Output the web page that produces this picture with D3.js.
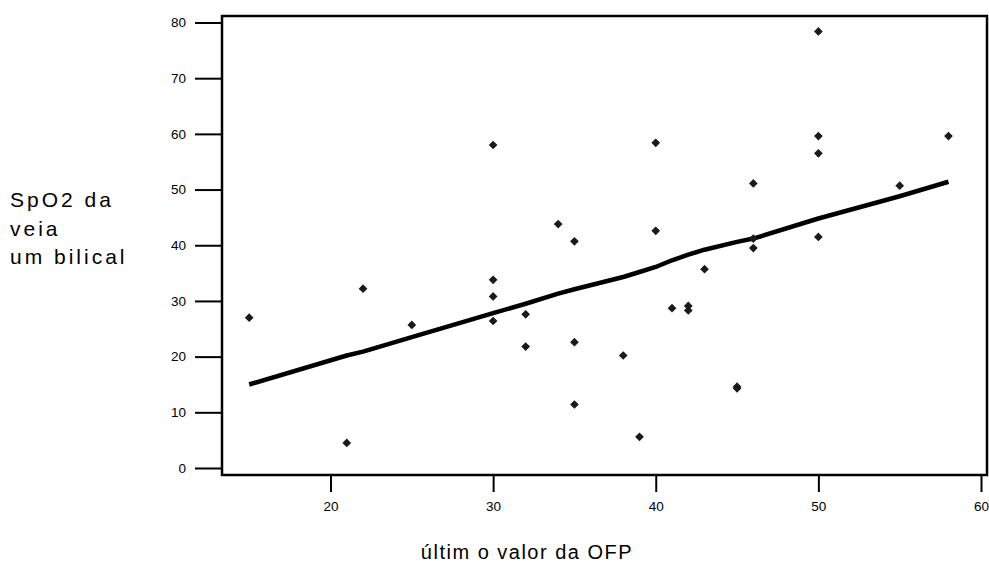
<!DOCTYPE html>
<html>
<head>
<meta charset="utf-8">
<script src="https://cdn.jsdelivr.net/npm/d3@7"></script>
<style>
  html, body { margin: 0; padding: 0; background: #fff; }
  svg { display: block; font-family: "Liberation Sans", Arial, sans-serif; }
</style>
</head>
<body>
<svg id="chart" width="989" height="562"></svg>
<script>
// ---- data ----
const ofpValues = [15, 21, 22, 25, 30, 30, 30, 30, 32, 32, 34, 35, 35, 35, 38, 39, 40, 40, 41, 42, 42, 43, 45, 45, 46, 46, 46, 50, 50, 50, 50, 55, 58];
const spo2Values = [27.0, 4.5, 32.2, 25.7, 58.0, 33.8, 30.8, 26.4, 27.6, 21.8, 43.8, 40.7, 22.6, 11.4, 20.2, 5.6, 58.4, 42.6, 28.7, 29.1, 28.3, 35.7, 14.3, 14.6, 51.1, 41.2, 39.5, 78.4, 59.6, 56.5, 41.5, 50.7, 59.6];
const fitX = [15, 21, 22, 25, 30, 32, 34, 35, 38, 39, 40, 41, 42, 43, 45, 46, 50, 55, 58];
const fitY = [15.0, 20.2, 20.9, 23.5, 27.8, 29.5, 31.3, 32.1, 34.3, 35.2, 36.1, 37.3, 38.3, 39.2, 40.6, 41.2, 44.8, 48.8, 51.4];
const xTicks = [20, 30, 40, 50, 60];
const yTicks = [0, 10, 20, 30, 40, 50, 60, 70, 80];
const xTitle = "últim o valor da OFP";
const yTitleLines = ["SpO2 da", "veia", "um bilical"];

// ---- layout ----
const svg = d3.select("#chart");
const plot = { left: 222, top: 16, right: 987, bottom: 475 };

const x = d3.scaleLinear().domain([20, 60]).range([330.5, 981]);
const y = d3.scaleLinear().domain([0, 80]).range([468, 22.5]);

// frame
svg.append("rect")
  .attr("x", plot.left).attr("y", plot.top)
  .attr("width", plot.right - plot.left).attr("height", plot.bottom - plot.top)
  .attr("fill", "none").attr("stroke", "#000").attr("stroke-width", 2.5);

// y axis
const yAxis = svg.append("g")
  .attr("transform", `translate(${plot.left},0)`)
  .call(d3.axisLeft(y).tickValues(yTicks).tickSize(27).tickPadding(9).tickFormat(d3.format("d")));
yAxis.select(".domain").remove();
yAxis.selectAll(".tick line").attr("stroke", "#000").attr("stroke-width", 2);
yAxis.selectAll(".tick text").attr("font-size", 13.5).attr("fill", "#000")
  .attr("font-family", "'Liberation Sans', Arial, sans-serif");

// x axis
const xAxis = svg.append("g")
  .attr("transform", `translate(0,${plot.bottom})`)
  .call(d3.axisBottom(x).tickValues(xTicks).tickSize(17).tickPadding(9).tickFormat(d3.format("d")));
xAxis.select(".domain").remove();
xAxis.selectAll(".tick line").attr("stroke", "#000").attr("stroke-width", 2);
xAxis.selectAll(".tick text").attr("font-size", 13.5).attr("fill", "#000")
  .attr("font-family", "'Liberation Sans', Arial, sans-serif");

// fit line
const fit = fitX.map((v, i) => [v, fitY[i]]);
svg.append("path")
  .datum(fit)
  .attr("fill", "none").attr("stroke", "#000").attr("stroke-width", 4.5)
  .attr("stroke-linejoin", "round")
  .attr("d", d3.line().x(d => x(d[0])).y(d => y(d[1])));

// points
const pts = ofpValues.map((v, i) => [v, spo2Values[i]]);
const sym = d3.symbol().type(d3.symbolSquare).size(38);
svg.append("g").selectAll("path")
  .data(pts).join("path")
  .attr("d", sym)
  .attr("transform", d => `translate(${x(d[0])},${y(d[1])}) rotate(45)`)
  .attr("fill", "#1a1a1a");

// titles
svg.append("text")
  .attr("x", 527).attr("y", 559)
  .attr("text-anchor", "middle")
  .attr("font-size", 20).attr("letter-spacing", 1.5)
  .text(xTitle);

const yt = svg.append("text").attr("font-size", 21).attr("letter-spacing", 3);
yTitleLines.forEach((t, i) => {
  yt.append("tspan").attr("x", 10).attr("y", 207 + i * 28.5).text(t);
});
</script>
</body>
</html>
